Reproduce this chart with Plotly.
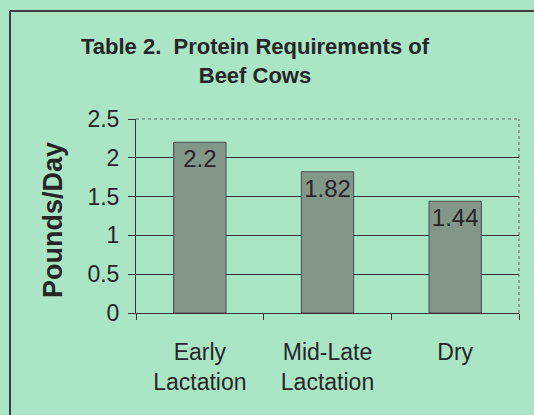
import plotly.graph_objects as go

categories = ["Early<br>Lactation", "Mid-Late<br>Lactation", "Dry"]
values = [2.2, 1.82, 1.44]
value_labels = ["2.2", "1.82", "1.44"]
y_ticks = [0, 0.5, 1, 1.5, 2, 2.5]
y_tick_labels = ["0", "0.5", "1", "1.5", "2", "2.5"]

BG = "rgb(170,230,197)"
INK = "#262626"
FONT = "Liberation Sans, Arial, sans-serif"

fig = go.Figure(
    go.Bar(
        x=categories,
        y=values,
        width=0.41,
        text=value_labels,
        textposition="inside",
        insidetextanchor="end",
        textangle=0,
        constraintext="none",
        textfont=dict(family=FONT, size=24, color=INK),
        marker=dict(
            color="#8aa292",
            line=dict(color="#4a4a4a", width=1),
            pattern=dict(shape=".", size=2, solidity=0.5,
                         fgcolor="#5a6b5e", bgcolor="#a3baa9", fillmode="replace"),
        ),
        hoverinfo="skip",
    )
)

L, R, T, B = 136, 15, 119, 102
W, H = 534, 415
pw, ph = W - L - R, H - T - B

def px_x(p):
    return (p - L) / pw

def px_y(p):
    return (H - B - p) / ph

fig.update_layout(
    width=W, height=H,
    margin=dict(l=L, r=R, t=T, b=B, autoexpand=False),
    paper_bgcolor=BG, plot_bgcolor=BG,
    font=dict(family=FONT, size=23, color=INK),
    showlegend=False,
    title=dict(
        text="<b>Table 2.  Protein Requirements of<br>Beef Cows</b>",
        x=255 / W, xanchor="center", xref="container",
        y=1 - 54 / H, yanchor="top", yref="container",
        font=dict(family=FONT, size=22, color=INK),
    ),
    xaxis=dict(
        showline=True, linecolor="#333", linewidth=1,
        ticks="outside", ticklen=6, tickcolor="#333", tickson="boundaries",
        showgrid=False, tickfont=dict(size=23, color=INK),
        ticklabelstandoff=18,
    ),
    yaxis=dict(
        range=[0, 2.5], tickvals=y_ticks, ticktext=y_tick_labels,
        showline=True, linecolor="#333", linewidth=1,
        ticks="outside", ticklen=7, tickcolor="#333",
        showgrid=True, gridcolor="#333", gridwidth=1,
        zeroline=False, tickfont=dict(size=23, color=INK),
        ticklabelstandoff=4,
    ),
    annotations=[dict(
        text="<b>Pounds/Day</b>", textangle=-90,
        xref="paper", yref="paper", x=px_x(53), y=px_y(220),
        xanchor="center", yanchor="middle", showarrow=False,
        font=dict(family=FONT, size=27, color=INK),
    )],
    shapes=[
        # dotted top and right plot-area border
        dict(type="line", xref="paper", yref="paper", x0=0, x1=1, y0=1, y1=1,
             line=dict(color="#666", width=1, dash="dot")),
        dict(type="line", xref="paper", yref="paper", x0=1, x1=1, y0=0, y1=1,
             line=dict(color="#666", width=1, dash="dot")),
        # outer frame (left and top edges visible)
        dict(type="line", xref="paper", yref="paper", x0=px_x(10), x1=px_x(10),
             y0=px_y(11), y1=px_y(430), line=dict(color="#3c3c3c", width=2)),
        dict(type="line", xref="paper", yref="paper", x0=px_x(10), x1=px_x(560),
             y0=px_y(11), y1=px_y(11), line=dict(color="#3c3c3c", width=2)),
    ],
)

fig.write_html(
    "out.html",
    config={"displayModeBar": False},
    post_script="document.body.style.margin='0';document.body.style.background='" + BG + "';",
)
